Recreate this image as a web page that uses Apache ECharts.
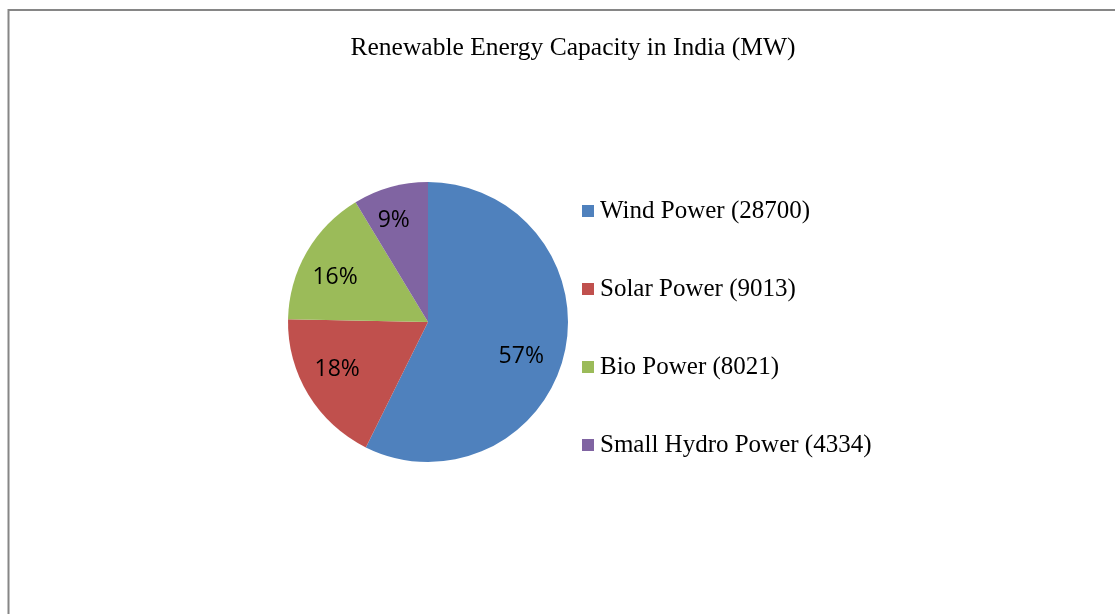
<!DOCTYPE html>
<html>
<head>
<meta charset="utf-8">
<script src="https://cdn.jsdelivr.net/npm/echarts@6/dist/echarts.min.js"></script>
<style>
html,body{margin:0;padding:0;background:#fff;}
#chart{width:1115px;height:614px;}
</style>
</head>
<body>
<div id="chart"></div>
<script>
const categories = ['Wind Power', 'Solar Power', 'Bio Power', 'Small Hydro Power'];
const values = [28700, 9013, 8021, 4334];
const colors = ['#4F81BD', '#C0504D', '#9BBB59', '#8064A2'];
const titleText = 'Renewable Energy Capacity in India (MW)';
const labelOffsets = [[-9, 11], [-1, -7], [-2, 8], [-6, 0]];

const data = categories.map((c, i) => ({ name: c, value: values[i], itemStyle: { color: colors[i] } }));
const chart = echarts.init(document.getElementById('chart'), null, { renderer: 'canvas' });
chart.setOption({
  animation: false,
  backgroundColor: '#fff',
  title: {
    text: titleText,
    left: 568, top: 30, textAlign: 'center',
    textStyle: { fontFamily: 'Liberation Serif', fontSize: 25.5, fontWeight: 'normal', color: '#000' }
  },
  graphic: [{
    type: 'rect', silent: true,
    shape: { x: 8.5, y: 10, width: 1200, height: 700 },
    style: { fill: 'none', stroke: '#868686', lineWidth: 2 }
  }],
  legend: {
    orient: 'vertical', left: 582, top: 198, padding: 0,
    itemWidth: 12, itemHeight: 12, itemGap: 52, icon: 'rect',
    data: categories,
    formatter: name => name + ' (' + values[categories.indexOf(name)] + ')',
    textStyle: { fontFamily: 'Liberation Serif', fontSize: 25, color: '#000', lineHeight: 26, padding: [0, 0, 0, 1] }
  },
  series: [{
    type: 'pie', center: [428, 322], radius: 140,
    startAngle: 90, clockwise: true,
    data: data,
    label: { show: false }, labelLine: { show: false },
    itemStyle: { borderColor: '#fff', borderWidth: 0 },
    emphasis: { disabled: true }
  }, {
    type: 'pie', center: [428, 322], radius: [64, 140],
    startAngle: 90, clockwise: true, silent: true,
    data: data.map((d, i) => ({ name: d.name, value: d.value, itemStyle: { color: 'rgba(0,0,0,0)' }, label: { offset: labelOffsets[i] } })),
    label: {
      show: true, position: 'inside', color: '#000',
      fontFamily: 'Open Sans', fontSize: 23,
      formatter: p => Math.round(p.percent) + '%'
    },
    labelLine: { show: false },
    emphasis: { disabled: true }
  }]
});
</script>
</body>
</html>
